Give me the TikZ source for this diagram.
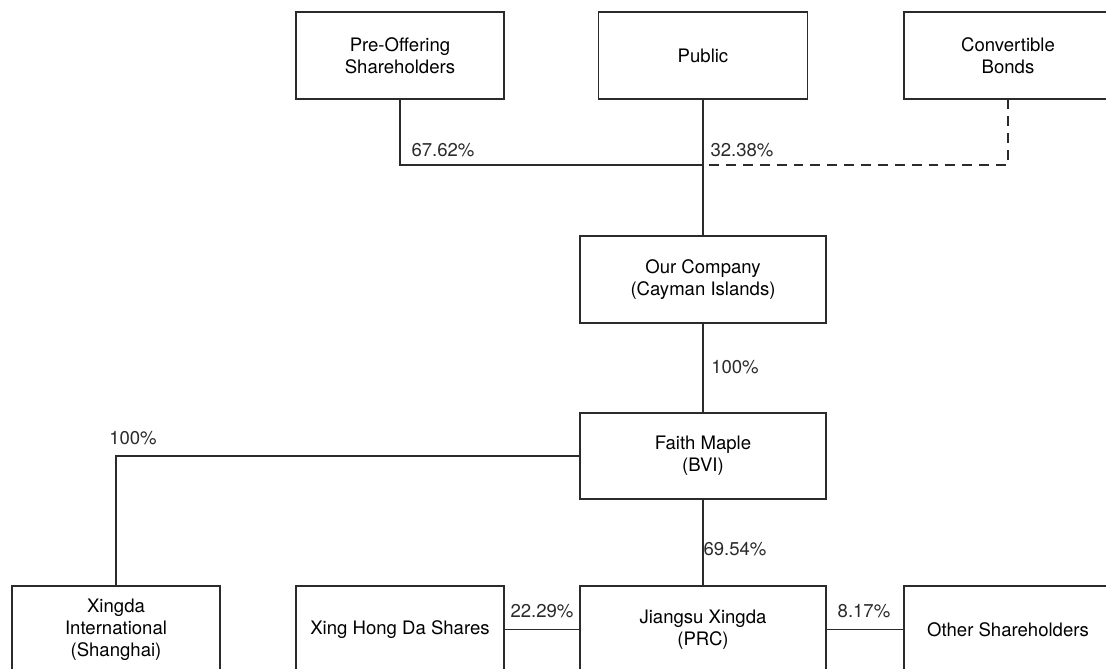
\documentclass[tikz,border=0pt]{standalone}
\usepackage{fontspec}
\setmainfont{TeX Gyre Heros}
\usepackage{xcolor}
\definecolor{ink}{HTML}{2B2B2B}

\begin{document}
\begin{tikzpicture}[x=0.025cm,y=-0.025cm,
	box/.style={draw=ink,line width=0.8pt,align=center,minimum width=5.2cm,minimum height=2.175cm,inner sep=2pt,font=\fontsize{13.2}{15.8}\selectfont},
	pct/.style={inner sep=0pt,text=ink,font=\fontsize{13.2}{15.8}\selectfont},
	link/.style={draw=ink,line width=0.8pt}]
		\useasboundingbox (0,0) rectangle (1106,669);
		\clip (0,0) rectangle (1106,669);
		% holders
		\node [box] (pre) at (400,55.5) {Pre-Offering\\Shareholders};
		\node [box,minimum width=5.225cm] (pub) at (703,55.5) {Public};
		\node [box] (cb) at (1008,55.5) {Convertible\\Bonds};
		\coordinate (J) at (703,165);
		% group
		\node [box,minimum width=6.15cm] (ourco) at (703,279.5) {Our Company\\(Cayman Islands)};
		\node [box,minimum width=6.15cm,minimum height=2.15cm] (faith) at (703,456) {Faith Maple\\(BVI)};
		\node [box] (xint) at (116,629.5) {Xingda\\International\\(Shanghai)};
		\node [box] (xhd) at (400,629.5) {Xing Hong Da Shares};
		\node [box,minimum width=6.15cm] (js) at (703,629.5) {Jiangsu Xingda\\(PRC)};
		\node [box] (other) at (1008,629.5) {Other Shareholders};
		% lines
		\draw [link] (pre.south) |- (J);
		\draw [link] (pub.south) -- (ourco.north);
		\draw [link,dashed,dash pattern=on 7pt off 5pt] (cb.south) |- (J);
		\draw [link] (ourco.south) -- (faith.north);
		\draw [link] (faith.west) -| (xint.north);
		\draw [link] (faith.south) -- (js.north);
		\draw [link] (xhd.east) -- (js.west);
		\draw [link] (js.east) -- (other.west);
		% percentages
		\node [pct] (p1) at (443,150) {67.62\%};
		\node [pct] (p2) at (742,150) {32.38\%};
		\node [pct] (p3) at (735,367) {100\%};
		\node [pct] (p4) at (133,438) {100\%};
		\node [pct] (p5) at (735,549) {69.54\%};
		\node [pct] (p6) at (542,611) {22.29\%};
		\node [pct] (p7) at (864,611) {8.17\%};
	\end{tikzpicture}
\end{document}
